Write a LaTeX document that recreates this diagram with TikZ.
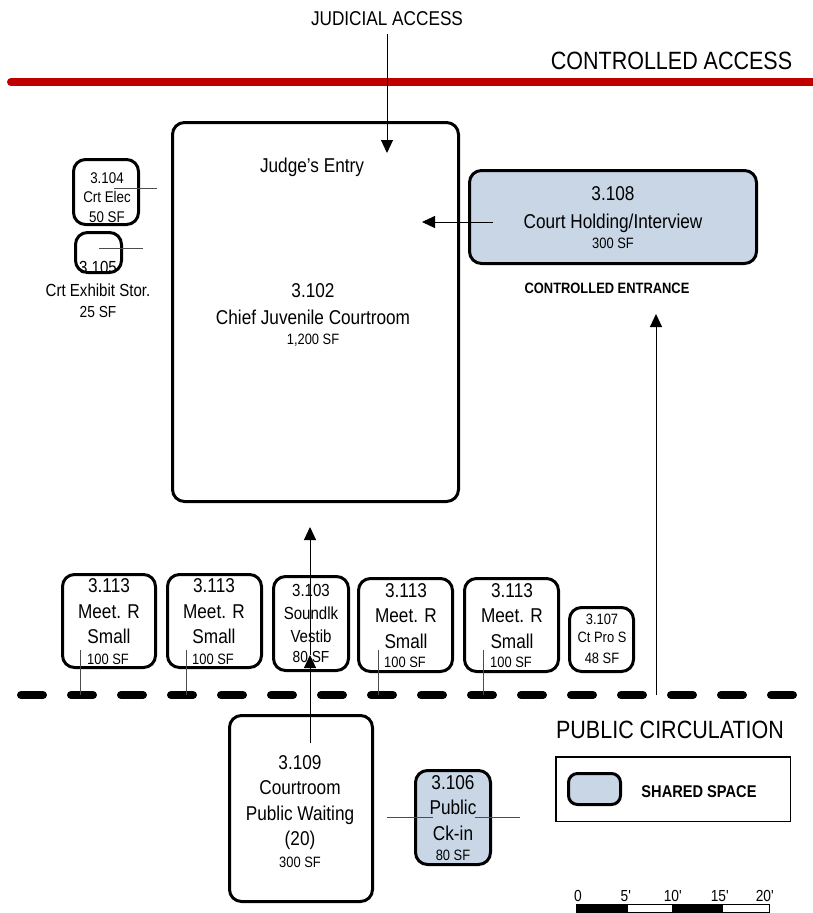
\documentclass[tikz,border=0pt]{standalone}
\usepackage{fontspec}
\setmainfont[FakeStretch=0.86]{Liberation Sans}
\usetikzlibrary{arrows.meta}
\definecolor{sharedfill}{RGB}{200,214,230}
\definecolor{ctrlred}{RGB}{192,0,0}
\newcommand\fsz[1]{\fontsize{#1}{#1}\selectfont}
\begin{document}
\begin{tikzpicture}[x=1pt,y=-1pt,
  room/.style={draw=black, line width=3pt, rounded corners=12pt, inner sep=0pt, fill=white},
  sharedroom/.style={room, fill=sharedfill},
  lbl/.style={inner sep=0pt, text depth=0pt, font=\fsz{#1}},
  s25/.style={lbl=25, text height=17.9pt},
  s20/.style={lbl=20, text height=14.3pt},
  s175/.style={lbl=17.5, text height=12.5pt},
  s16/.style={lbl=16, text height=11.5pt},
  s155/.style={lbl=15.5, text height=11.1pt},
  s15/.style={lbl=15, text height=10.7pt},
  b15/.style={s15, font=\fsz{15}\bfseries},
  b17/.style={lbl=17, text height=12.2pt, font=\fsz{17}\bfseries},
  arr/.style={draw=black, line width=1pt, -{Triangle[length=13pt,width=12pt]}},
  stub/.style={draw=black!70, line width=1pt},
]
\useasboundingbox (0,0) rectangle (812,913);

% controlled access line
\draw[ctrlred, line width=8pt, line cap=round] (11,82) -- (814,82);
\node[s25] (ctrlacc) at (671.5,61) {CONTROLLED ACCESS};
\node[s20] (judacc) at (387,18) {JUDICIAL ACCESS};

% courtroom
\node[room, minimum width=286pt, minimum height=379pt] (c102) at (315.5,312) {};
\node[s20] (jentry) at (312,165) {Judge’s Entry};
\node[s20] (c102a) at (313,290) {3.102};
\node[s20] (c102b) at (313,317) {Chief Juvenile Courtroom};
\node[s15] (c102c) at (313,339) {1,200 SF};

% holding
\node[sharedroom, minimum width=287pt, minimum height=93pt] (c108) at (613,217) {};
\node[s20] (c108a) at (613,193) {3.108};
\node[s20] (c108b) at (613,221) {Court Holding/Interview};
\node[s15] (c108c) at (613,243) {300 SF};
\node[b15] (ctrlent) at (607,288) {CONTROLLED ENTRANCE};

% small rooms left
\node[room, minimum width=65pt, minimum height=65pt] (c104) at (106,192) {};
\node[s155] (c104a) at (107,178) {3.104};
\node[s155] (c104b) at (107,197) {Crt Elec};
\node[s155] (c104c) at (107,217) {50 SF};
\node[room, minimum width=46pt, minimum height=40pt] (c105) at (98.5,252.5) {};
\node[s175] (c105a) at (98,267) {3.105};
\node[s175] (c105b) at (98,290) {Crt Exhibit Stor.};
\node[s16] (c105c) at (98,312) {25 SF};
\coordinate (st104a) at (114,188); \coordinate (st104b) at (157,188);
\coordinate (st105a) at (99,248); \coordinate (st105b) at (143,248);
\draw[stub] (st104a) -- (st104b);
\draw[stub] (st105a) -- (st105b);

% meeting rooms row
\node[room, minimum width=93pt, minimum height=93pt] (m1) at (109,621) {};
\node[s20] (m1a) at (109,585) {3.113};
\node[s20] (m1b) at (109,611) {Meet. R};
\node[s20] (m1c) at (109,636) {Small};
\node[s15] (m1d) at (108,659) {100 SF};

\node[room, minimum width=94pt, minimum height=93pt] (m2) at (214.5,621) {};
\node[s20] (m2a) at (214,585) {3.113};
\node[s20] (m2b) at (214,611) {Meet. R};
\node[s20] (m2c) at (214,636) {Small};
\node[s15] (m2d) at (213,659) {100 SF};

\node[room, minimum width=75pt, minimum height=94pt] (c103) at (311,623.5) {};
\node[s175] (c103a) at (311,590) {3.103};
\node[s175] (c103b) at (311,613) {Soundlk};
\node[s175] (c103c) at (311,636) {Vestib};
\node[s16] (c103d) at (311,657) {80 SF};

\node[room, minimum width=94pt, minimum height=93pt] (m4) at (405.5,625) {};
\node[s20] (m4a) at (406,590) {3.113};
\node[s20] (m4b) at (406,615) {Meet. R};
\node[s20] (m4c) at (406,641) {Small};
\node[s15] (m4d) at (405,662) {100 SF};

\node[room, minimum width=94pt, minimum height=93pt] (m5) at (511.5,625) {};
\node[s20] (m5a) at (512,590) {3.113};
\node[s20] (m5b) at (512,615) {Meet. R};
\node[s20] (m5c) at (512,641) {Small};
\node[s15] (m5d) at (511,662) {100 SF};

\node[room, minimum width=64pt, minimum height=64pt] (c107) at (601.5,639.5) {};
\node[s15] (c107a) at (602,619) {3.107};
\node[s15] (c107b) at (602,637) {Ct Pro S};
\node[s15] (c107c) at (602,658) {48 SF};

% public circulation dashed line
\coordinate (pc0) at (21,695); \coordinate (pc1) at (793,695);
\draw[line width=8pt, line cap=round, dash pattern=on 22pt off 28pt] (pc0) -- (pc1);
\foreach \n/\x in {1/80,2/186,4/378,5/483}{
  \coordinate (sa\n) at (\x,650); \coordinate (sb\n) at (\x,695);
  \draw[stub] (sa\n) -- (sb\n);
}
\node[s25] (pubcirc) at (670,730) {PUBLIC CIRCULATION};

% waiting
\node[room, minimum width=143pt, minimum height=186pt] (c109) at (301,808.5) {};
\node[s20] (c109a) at (300,762) {3.109};
\node[s20] (c109b) at (300,787) {Courtroom};
\node[s20] (c109c) at (300,813) {Public Waiting};
\node[s20] (c109d) at (300,838) {(20)};
\node[s15] (c109e) at (300,862) {300 SF};

\node[sharedroom, minimum width=75pt, minimum height=94pt] (c106) at (453,817.5) {};
\node[s20] (c106a) at (453,782) {3.106};
\node[s20] (c106b) at (453,807) {Public};
\node[s20] (c106c) at (453,833) {Ck-in};
\node[s15] (c106d) at (453,855) {80 SF};
\coordinate (ck0) at (387,817); \coordinate (ck1) at (433,817);
\coordinate (ck2) at (475,817); \coordinate (ck3) at (520,817);
\draw[stub] (ck0) -- (ck1);
\draw[stub] (ck2) -- (ck3);

% arrows
\coordinate (judtip) at (387,153);
\draw[arr] (judacc.south) ++(0,9) -- (judtip);
\coordinate (holdst) at (493,222); \coordinate (holdtip) at (422,222);
\draw[arr] (holdst) -- (holdtip);
\coordinate (entst) at (656,695); \coordinate (enttip) at (656,314);
\draw[arr] (entst) -- (enttip);
\coordinate (wst) at (310,743); \coordinate (wmid) at (310,655); \coordinate (wtip) at (310,527);
\draw[arr] (wst) -- (wmid);
\draw[arr] (wmid) -- (wtip);

% legend
\node[draw=black, line width=1.5pt, minimum width=234.5pt, minimum height=64.5pt, inner sep=0pt] (legend) at (673,789) {};
\node[sharedroom, rounded corners=9pt, minimum width=52pt, minimum height=31pt] (legsw) at (594.5,789) {};
\node[b17] (legtxt) at (699,791) {SHARED SPACE};

% scale bar
\fill[black] (576,904) rectangle (627,913);
\draw[black, line width=1pt, fill=white] (627,904.5) rectangle (672,912.5);
\fill[black] (672,904) rectangle (722,913);
\draw[black, line width=1pt, fill=white] (722,904.5) rectangle (769,912.5);
\node[s16] (sc0) at (578,896) {0};
\node[s16] (sc5) at (626,896) {5\textquotesingle};
\node[s16] (sc10) at (673,896) {10\textquotesingle};
\node[s16] (sc15) at (720,896) {15\textquotesingle};
\node[s16] (sc20) at (765,896) {20\textquotesingle};
\end{tikzpicture}
\end{document}
